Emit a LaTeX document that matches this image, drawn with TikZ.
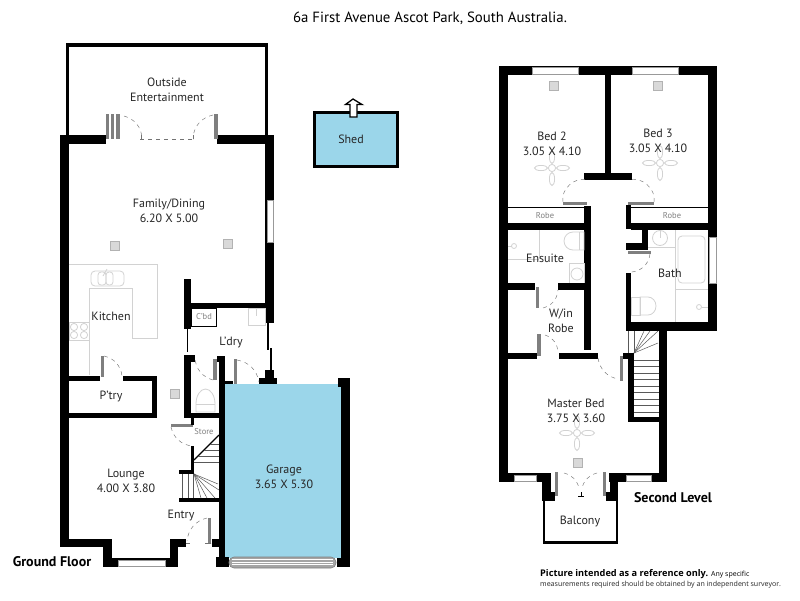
\documentclass[tikz,border=0pt]{standalone}
\usepackage{fontspec}
\setmainfont{PT Sans}
\newfontfamily\notefont{Open Sans}
\definecolor{garageblue}{HTML}{9BD6EA}
\definecolor{doorgray}{HTML}{7F7F7F}
\definecolor{fixgray}{HTML}{D2D2D2}
\tikzset{
  wall/.style={fill=black},
  thinwall/.style={draw=black,line width=1.3},
  door/.style={fill=doorgray},
  swing/.style={draw=black!55,line width=0.45,dash pattern=on 4 off 4},
  fixture/.style={draw=fixgray,line width=0.8},
  window/.style={fill=white,draw=black!40,line width=0.4},
  downlight/.style={fill=black!15,draw=black!30,line width=0.5},
  room/.style={font=\fontsize{12}{14.5}\selectfont,text=black!85,align=center,inner sep=0},
  small/.style={font=\fontsize{8.5}{10}\selectfont,text=black!50,inner sep=0},
  heading/.style={font=\fontsize{14}{16}\selectfont\bfseries,inner sep=0},
  stair/.style={draw=black!65,line width=0.5},
}
\newcommand{\fan}[2]{%
  \begin{scope}[shift={(#1,#2)}]
    \foreach \a in {0,90,180,270}
      \draw[fixture,rotate=\a] (11,0) ellipse (6.5 and 2.6);
    \draw[fixture,fill=white] (0,0) circle (3.6);
  \end{scope}}
\newcommand{\spot}[2]{\fill[downlight] (#1-4.5,#2-4.5) rectangle (#1+4.5,#2+4.5); \draw[downlight] (#1-4.5,#2-4.5) rectangle (#1+4.5,#2+4.5);}
\begin{document}
\begin{tikzpicture}[x=1pt,y=-1pt]
\useasboundingbox (0,0) rectangle (800,600);
\fill[white] (0,0) rectangle (800,600);

\node[font=\fontsize{14.8}{16}\selectfont,inner sep=0] (title) at (430,18) {6a First Avenue Ascot Park, South Australia.};

% ground floor
\draw[line width=3.2,line join=miter] (67.6,135) -- (67.6,45) -- (266.4,45) -- (266.4,135);
\fill[wall] (60,135) rectangle (106,144);
\fill[wall] (217,135) rectangle (274,144);
\fill[wall] (60,135) rectangle (69,547);
\fill[wall] (265,135) rectangle (274,323);
\fill[window] (267,200) rectangle (273,242);
\foreach \x/\w in {106/2.7,111/2.7,116/4} \fill[door] (\x,114) rectangle (\x+\w,139);
\fill[door] (214,114) rectangle (218,139);
\draw[swing] (124,116) to[bend left=35] (142,138);
\draw[swing] (213,115) to[bend right=35] (193,137);
\draw[swing] (140,139) -- (193,139);
\draw[swing,dash pattern=on 2 off 0] (141,135) -- (141,139) (193,135) -- (193,139);

% kitchen
\draw[fixture] (69,264) -- (157,264) -- (157,338) -- (132,338) -- (132,288) -- (89,288) -- (89,375);
\draw[fixture] (69,322) rectangle (89,340);
\foreach \x/\y in {74/327,84/327,74/335,84/335} \draw[fixture] (\x,\y) circle (3.6);
\draw[fixture,rounded corners=4] (91,271) rectangle (124,286);
\draw[fixture,rounded corners=3] (98,272) rectangle (106,285);
\draw[fixture,rounded corners=3] (106,272) rectangle (113,285);
\draw[fixture] (103,276) -- (107,269);

\fill[wall] (69,376) rectangle (100,381);
\fill[wall] (123,376) rectangle (157,381);
\fill[wall] (152,376) rectangle (157,418);
\fill[wall] (69,413) rectangle (157,418);
\fill[door] (101,356) rectangle (104,377);
\draw[swing] (104,356) to[bend left=35] (122,376);

% laundry and wc
\fill[wall] (184,279) rectangle (191,329);
\draw[thinwall] (187.5,329) -- (187.5,352);
\fill[wall] (184,355) rectangle (191,418);
\fill[wall] (184,355) rectangle (195,362);
\fill[wall] (191,303) rectangle (265,308);
\draw[line width=0.7,fill=white] (191,308) rectangle (216,326);
\draw[fixture] (248,308) rectangle (265,325);
\draw[fixture] (256.5,308) -- (256.5,316);
\draw[thinwall] (268,323) -- (268,350);
\draw[thinwall] (271,348) -- (271,371);
\fill[wall] (265,370) rectangle (274,378);
\fill[wall] (259,378) rectangle (277,387);
\fill[wall] (217,356) rectangle (225,362);
\fill[wall] (219,356) rectangle (225,567);
\fill[wall] (225,381) rectangle (233,387);
\fill[door] (213,359) rectangle (217,380);
\draw[swing] (213,380) to[bend left=35] (195,358);
\fill[door] (234,359) rectangle (237,384);
\draw[swing] (237,360) to[bend left=35] (259,382);
\fill[wall] (191,413) rectangle (219,418);
\draw[fixture] (196,404) arc (180:360:9.5 and 15) -- (215,412) -- (196,412) -- cycle;
\draw[fixture] (196,404) -- (215,404);

% garage
\fill[garageblue] (225,384) rectangle (341,558);
\fill[wall] (341,378) rectangle (350,567);
\fill[wall] (338,378) rectangle (341,387);
\fill[wall] (216,557) rectangle (229,567);
\fill[wall] (337,558) rectangle (350,567);
\fill[doorgray!70,draw=doorgray,line width=0.6,rounded corners=5] (229,557) rectangle (336,568);
\foreach \y in {559.5,562,564.5} \draw[white,line width=0.5] (232,\y) -- (333,\y);

% shed
\draw[line width=3,fill=garageblue] (314.5,112.5) rectangle (397.5,166);
\draw[line width=1.3,fill=white,line join=miter] (350,117) -- (350,104.5) -- (345.5,104.5) -- (353,99) -- (362,104.5) -- (357,104.5) -- (357,117) -- cycle;

% store and stairs
\fill[door] (171,424) rectangle (193,427);
\fill[wall] (191,418) rectangle (194,425);
\draw[swing] (171,427) to[bend right=35] (192,446);
\fill[wall] (191,446) rectangle (194,470);
\fill[wall] (179,470) rectangle (194,474);
\fill[wall] (179,498) rectangle (219,502);
\draw[line width=1.3] (194,460) -- (219,435);
\foreach \y in {444,450,456,462} \draw[stair] ({max(194,654-\y)},\y) -- (219,\y);
\foreach \x in {182,188,193} \draw[stair] (\x,474) -- (\x,498);
\foreach \x/\y in {218/484,219/490,215/498,207/498,201/498} \draw[stair] (194,474) -- (\x,\y);

% lounge and entry
\fill[wall] (60,539) rectangle (112,547);
\fill[wall] (103,547) rectangle (112,567);
\fill[wall] (103,558) rectangle (178,567);
\fill[window] (118,560) rectangle (165,566);
\fill[wall] (170,539) rectangle (186,547);
\fill[wall] (170,547) rectangle (178,567);
\fill[wall] (212,539) rectangle (219,547);
\fill[door] (208,518) rectangle (211,543);
\draw[swing] (207,518) to[bend right=35] (187,541);
\draw[swing,dash pattern=on 2 off 0] (186,543) -- (190,543) (205,543) -- (211,543);
\spot{115}{246}
\spot{228}{244}
\spot{175}{394}

% second level
\fill[wall] (499,66) rectangle (717,75);
\fill[wall] (499,66) rectangle (508,482);
\fill[wall] (708,66) rectangle (717,331);
\fill[window] (532,67.5) rectangle (578,74);
\fill[window] (632,67.5) rectangle (678,74);
\fill[wall] (605,75) rectangle (611,173);
\fill[wall] (584,173) rectangle (632,180);
\fill[door] (563,202) rectangle (587,205);
\fill[door] (628,202) rectangle (654,205);
\draw[swing] (563,202) to[bend left=60] (587,180);
\draw[swing] (654,202) to[bend right=60] (629,180);
\fill[wall] (584,206) rectangle (591,350);
\fill[wall] (626,205) rectangle (631,229);
\draw[line width=0.8] (508,207) -- (584,207) (631,207) -- (708,207);
\fill[wall] (508,223) rectangle (584,230);
\fill[wall] (631,223) rectangle (708,230);
\fill[wall] (642,230) rectangle (648,250);
\fill[wall] (626,243) rectangle (648,250);
\fill[door] (628,251) rectangle (651,254);
\draw[swing] (650,254) to[bend left=45] (628,272);
\fill[wall] (626,273) rectangle (631,331);
\fill[wall] (626,322) rectangle (717,331);
\fill[window] (709,237) rectangle (716,283);

% bath fittings
\draw[fixture] (648,247) -- (675,247);
\draw[fixture] (675,230) -- (675,322);
\draw[fixture] (675,289) -- (708,289);
\draw[fixture] (660,238) circle (7.5);
\draw[fixture] (660,230) -- (660,238);
\draw[fixture,rounded corners=4] (678,236) rectangle (705,283);
\draw[fixture] (699,307) circle (2.5);
\draw[fixture] (701.5,307) -- (708,307);
\draw[fixture] (640,297) -- (648,297) arc (-90:90:8 and 9) -- (640,315) -- cycle;
\draw[fixture] (631,297) rectangle (640,315);

% ensuite fittings
\draw[fixture] (539,230) -- (539,259);
\draw[fixture] (508,259) -- (539,259);
\draw[fixture] (584,232) -- (573,232) arc (270:90:9 and 9) -- (584,250) -- cycle;
\draw[fixture] (579,232) -- (579,250);
\draw[fixture] (569,263) rectangle (584,283);
\draw[fixture] (577,274) circle (6);
\draw[fixture] (514,246) circle (2.5);
\draw[fixture] (508,246) -- (511.5,246);

% ensuite and robe walls
\fill[wall] (508,283) rectangle (535,290);
\fill[wall] (558,283) rectangle (585,290);
\fill[door] (536,287) rectangle (539,308);
\draw[swing] (543,308) to[bend right=35] (558,290);
\fill[wall] (508,353) rectangle (537,359);
\fill[wall] (559,353) rectangle (598,359);
\fill[door] (537,334) rectangle (541,356);
\draw[swing] (545,335) to[bend left=35] (558,353);

% master bed
\fill[door] (620,356) rectangle (623,381);
\draw[swing] (598,358) to[bend right=35] (618,379);
\fill[wall] (623,353) rectangle (634,359);
\fill[wall] (628,353) rectangle (634,422);
\fill[wall] (628,417) rectangle (667,422);
\fill[wall] (659,328) rectangle (667,482);
\fill[wall] (499,473) rectangle (551,482);
\fill[wall] (609,473) rectangle (667,482);
\fill[window] (514,475) rectangle (536,481);
\fill[window] (626,475) rectangle (651,481);
\fill[wall] (542,482) rectangle (551,501);
\fill[wall] (542,492) rectangle (555,501);
\fill[wall] (610,482) rectangle (618,501);
\fill[wall] (606,492) rectangle (618,501);
\fill[door] (555,472) rectangle (558,496);
\fill[door] (603,472) rectangle (606,496);
\draw[swing] (564,473) to[bend left=30] (579,488);
\draw[swing] (597,473) to[bend right=30] (582,488);
\draw[line width=0.6] (578,496) -- (584,496) (581,492) -- (581,496);
\draw[line width=2.4] (544,501) -- (544,542.5) -- (617,542.5) -- (617,501);

% upper stairs
\foreach \y in {360,366.5,373,379.5,386,392.5,399,405.5,412} \draw[stair] (634,\y) -- (659,\y);
\draw[stair] (628,331) -- (628,353);
\draw[stair] (634,331) -- (634,353);
\foreach \x/\y in {658/343,658/331,650/331,644/331} \draw[stair] (634,353) -- (\x,\y);

\fan{552}{168}
\fan{660}{163}
\fan{577}{433}
\spot{554}{86}
\spot{658}{86}
\spot{578}{463}

% labels
\node[room] (outside) at (167,90) {Outside\\Entertainment};
\node[room] (family) at (169,211) {Family/Dining\\6.20 X 5.00};
\node[room] (kitchen) at (111,316) {Kitchen};
\node[room] (pantry) at (111,396) {P'try};
\node[room] (laundry) at (231,342) {L'dry};
\node[room] (lounge) at (126,481) {Lounge\\4.00 X 3.80};
\node[room] (entry) at (181,516) {Entry};
\node[room] (garage) at (284,477) {Garage\\3.65 X 5.30};
\node[room] (shed) at (351,139) {Shed};
\node[small] (cupboard) at (204,317) {C'bd};
\node[small] (store) at (204,432) {Store};
\node[room] (bedtwo) at (552,144) {Bed 2\\3.05 X 4.10};
\node[room] (bedthree) at (658,141) {Bed 3\\3.05 X 4.10};
\node[small] (robeone) at (545,216) {Robe};
\node[small] (robetwo) at (672,216) {Robe};
\node[room] (ensuite) at (545,258) {Ensuite};
\node[room] (bath) at (670,273) {Bath};
\node[room] (walkin) at (561,321) {W/in\\Robe};
\node[room] (master) at (576,411) {Master Bed\\3.75 X 3.60};
\node[room] (balcony) at (580,521) {Balcony};
\node[heading] (ground) at (52,562) {Ground Floor};
\node[heading] (second) at (673,498) {Second Level};
\node[anchor=west,inner sep=0,font=\notefont\fontsize{9.2}{10}\selectfont\bfseries] (note) at (540,574) {Picture intended as a reference only.\hspace{3pt}{\fontsize{7}{8}\selectfont\mdseries Any specific}};
\node[anchor=west,inner sep=0,font=\notefont\fontsize{7.05}{8}\selectfont,text=black!85] (noteline) at (540,585) {measurements required should be obtained by an independent surveyor.};
\end{tikzpicture}
\end{document}
